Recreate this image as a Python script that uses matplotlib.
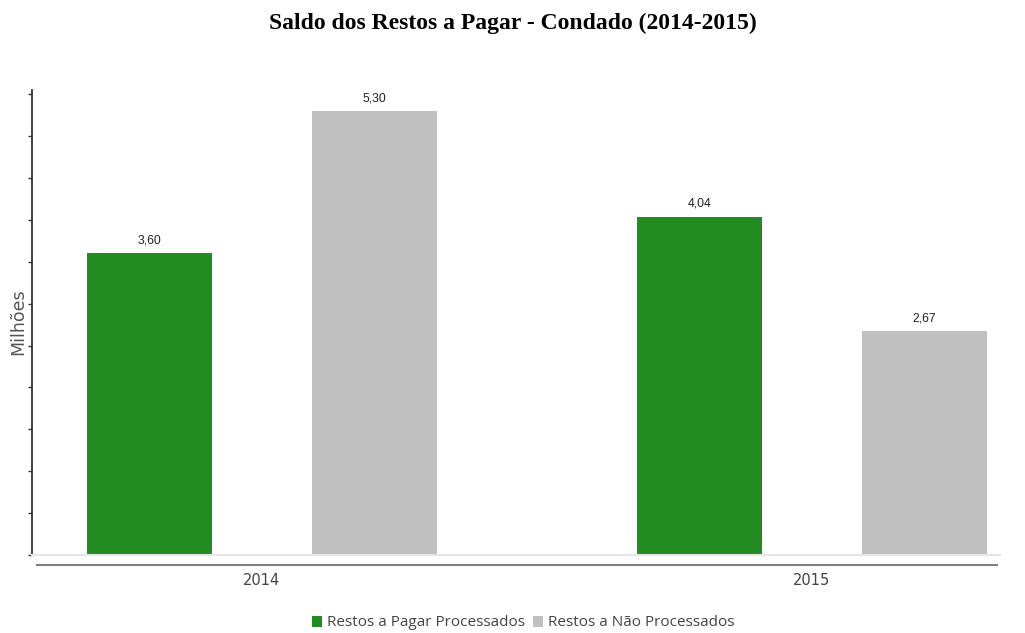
import matplotlib.pyplot as plt
import numpy as np

years = ['2014', '2015']
processados = [3.60, 4.04]
nao_processados = [5.30, 2.67]
series_names = ['Restos a Pagar Processados', 'Restos a Não Processados']
colors = ['#228b22', '#c0c0c0']

fig = plt.figure(figsize=(10.25, 6.33), dpi=100)
ax = fig.add_axes([0.0312, 0.1232, 0.9444, 0.7346])

x = np.arange(len(years))
width = 0.227
offset = 0.2045
bars1 = ax.bar(x - offset, processados, width, color=colors[0], label=series_names[0])
bars2 = ax.bar(x + offset, nao_processados, width, color=colors[1], label=series_names[1])

# value labels with comma decimal
for bars in (bars1, bars2):
    for b in bars:
        ax.annotate(f'{b.get_height():.2f}'.replace('.', ','),
                    (b.get_x() + b.get_width() / 2, b.get_height()),
                    xytext=(0, 5), textcoords='offset points',
                    ha='center', va='bottom', fontsize=8.8, color='#222222',
                    family='Liberation Sans')

ax.set_xlim(-0.418, 1.342)
ax.set_ylim(0, 5.55)
ax.set_yticks(np.arange(0, 5.6, 0.5))
ax.set_yticklabels([])
ax.tick_params(axis='y', direction='out', length=3, width=1, color='#333333')
ax.set_xticks(x)
ax.set_xticklabels(years, fontsize=10.5, color='#444444', family='DejaVu Sans')
ax.tick_params(axis='x', length=0, pad=13)

for side in ('top', 'right'):
    ax.spines[side].set_visible(False)
ax.spines['left'].set_color('#333333')
ax.spines['left'].set_linewidth(1.3)
ax.spines['bottom'].set_color('#e6e6e6')
ax.spines['bottom'].set_linewidth(1.5)

# darker axis line a bit below the baseline
ax.plot([0.005, 0.997], [-0.0215, -0.0215], transform=ax.transAxes,
        clip_on=False, color='#808080', lw=1.5)

fig.text(18 / 1025, 1 - 322 / 633, 'Milhões', rotation=90, ha='center', va='center',
         fontsize=12.5, color='#555555', family='DejaVu Sans')

fig.suptitle('Saldo dos Restos a Pagar - Condado (2014-2015)', x=0.5, y=1 - 23 / 633,
             va='center', fontsize=17, fontweight='bold', family='Liberation Serif')

fig.legend(loc='center', bbox_to_anchor=(523 / 1025, 10 / 633), ncol=2, frameon=False,
           handlelength=0.7, handleheight=0.7, handletextpad=0.3, columnspacing=0.5,
           prop={'family': 'Open Sans', 'size': 11}, labelcolor='#444444')

fig.savefig('out.png', dpi=100)
